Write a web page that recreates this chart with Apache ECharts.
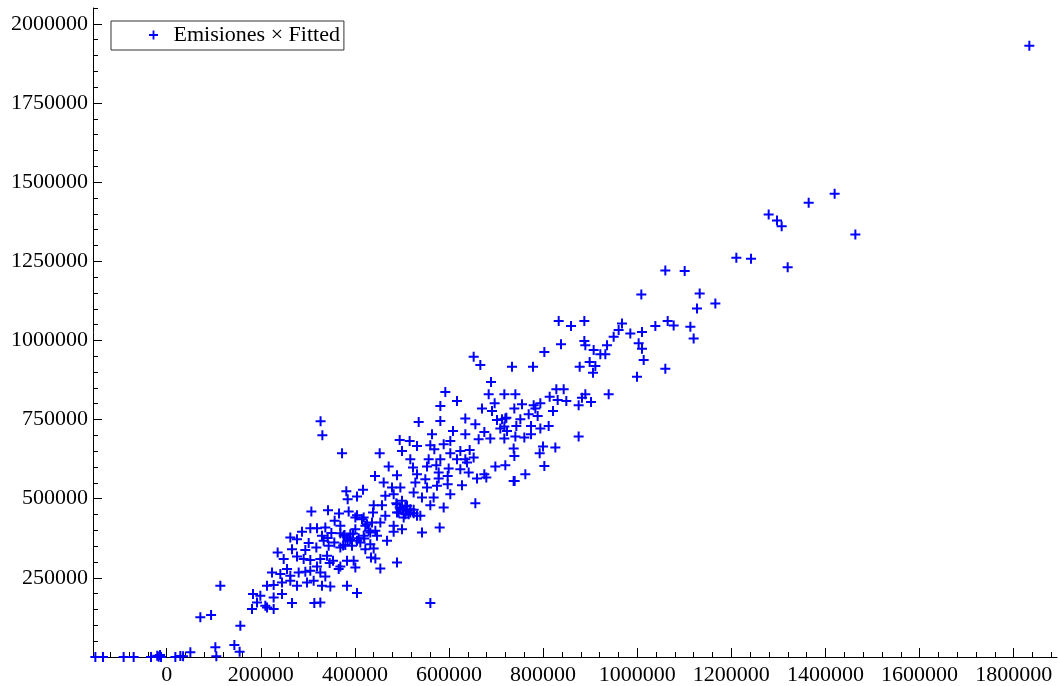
<!DOCTYPE html>
<html>
<head>
<meta charset="utf-8">
<title>Emisiones × Fitted</title>
<script src="https://cdn.jsdelivr.net/npm/echarts@6.0.0/dist/echarts.min.js"></script>
<style>
  html, body { margin: 0; padding: 0; background: #fff; }
  #chart { width: 1059px; height: 686px; }
</style>
</head>
<body>
<div id="chart"></div>
<script>
const seriesName = 'Emisiones × Fitted';

// tick labels
const xTicks = [0, 200000, 400000, 600000, 800000, 1000000, 1200000, 1400000, 1600000, 1800000];
const yTicks = [250000, 500000, 750000, 1000000, 1250000, 1500000, 1750000, 2000000];

// [Emisiones, Fitted]
const puntosBajos = [
  [-151500, 0], [-135200, 0], [-91400, 0], [-70100, 0], [-33200, 0], [-20000, 4000], [-17000, 1000],
  [-14000, 6000], [-11900, 0], [18500, 0], [29100, 3000], [34900, 2000], [50400, 14800], [103500, 30600],
  [105600, 2200], [143900, 37900], [155100, 16700], [156600, 98800], [114100, 225000], [71600, 125300],
  [94400, 132500], [560400, 170400]
];

const puntosNube1 = [
  [381800, 523700], [404500, 506900], [384700, 498500], [307500, 459600], [342900, 463800], [366300, 453300],
  [386800, 459600], [404500, 448000], [357000, 430100], [369100, 414400], [401000, 440700], [305300, 407000],
  [319500, 407000], [337200, 409100], [287600, 395400], [262800, 377500], [277000, 372300], [330100, 382800],
  [342200, 375500], [369100, 391200], [383300, 377500], [401000, 403800], [468300, 367000], [301800, 359700],
  [318100, 346000], [333700, 367000], [344300, 351300], [356300, 361800], [369100, 346000], [384700, 367000],
  [393900, 351300], [411600, 361800], [422200, 340700], [439900, 342800], [235900, 330200], [266400, 340700],
  [294700, 337600], [248700, 309200], [277000, 317600], [291200, 309200], [305300, 306000], [326600, 309200],
  [346400, 296600], [353500, 303900], [369100, 286100], [383300, 303900], [397400, 303900], [401000, 282900],
  [434300, 314400], [443500, 311300], [454100, 279700], [489500, 298700], [223900, 267100], [241600, 261900],
  [255800, 277600], [262800, 256600], [280600, 267100], [294700, 269200], [305300, 272400], [319500, 286100],
  [326600, 267100], [337200, 254500], [365600, 277600], [213300, 225100], [227400, 227200], [245100, 235600],
  [262800, 240800], [277000, 225100], [298300, 235600], [312400, 240800], [330100, 225100], [347800, 223000],
  [383300, 225100], [183500, 198800], [199100, 193500], [227400, 188200], [245100, 198800], [192000, 172500],
  [209700, 162000], [227400, 151400], [266400, 170400], [313800, 170400], [326600, 172500], [404500, 201900],
  [181400, 151400], [213300, 156700], [378000, 385000], [390000, 372000], [375000, 352000], [408000, 375000],
  [350000, 392000], [396000, 390000], [327100, 744600], [330900, 700400], [372700, 643600],
  [376200, 382800], [390300, 388100], [404500, 367000], [420100, 374400], [379700, 353400], [432800, 356500],
  [340800, 319700]
];

const puntosNube2 = [
  [689300, 868700], [592200, 837100], [617000, 808700], [684300, 829800], [717600, 829800], [741000, 829800],
  [581600, 793000], [697000, 801400], [670100, 784600], [691400, 777200], [738800, 784600], [535600, 742500],
  [581600, 745600], [634700, 753000], [656000, 735100], [702000, 748800], [719700, 753000], [563900, 703600],
  [608500, 714100], [634700, 703600], [675100, 710900], [709100, 721400], [743100, 729900], [495200, 685700],
  [516400, 682500], [532000, 666800], [560300, 668900], [588700, 672000], [602800, 682500], [663000, 687800],
  [687800, 689900], [717600, 689900], [741000, 696200], [452700, 643600], [500100, 651000], [568800, 656200],
  [602800, 643600], [624100, 651000], [643900, 654100], [652400, 630000], [737400, 658300], [517800, 624700],
  [556800, 624700], [581600, 624700], [617000, 624700], [634700, 624700], [471800, 601600], [523500, 598400],
  [553300, 601600], [573100, 605800], [599300, 595300], [624100, 593100], [641800, 582600], [698500, 601600],
  [719700, 605800], [442800, 572100], [489500, 574200], [532000, 577400], [549700, 561600], [578100, 563700],
  [597200, 572100], [675100, 577400], [417300, 527900], [461200, 551100], [478900, 535300], [496600, 535300],
  [528500, 551100], [553300, 535300], [574500, 540600], [597200, 545800], [627600, 542700], [659500, 563700],
  [679300, 566800], [737400, 556300], [464700, 509000], [482400, 514300], [524900, 519500], [542600, 503800],
  [567400, 503800], [602800, 514300], [440000, 479600], [457600, 479600], [489500, 482700], [507200, 475400],
  [524900, 464800], [560300, 479600], [588700, 472200], [656000, 485900], [418700, 440700], [438500, 456400],
  [464700, 445900], [489500, 456400], [503700, 440700], [517800, 456400], [539100, 445900], [425800, 419600],
  [454100, 424900], [482400, 414400], [500100, 403800], [580200, 409100], [432800, 393300], [447000, 382800],
  [482400, 395400], [542600, 393300], [496600, 467000], [510800, 461700], [500100, 493200], [514300, 451200],
  [739500, 556200], [652400, 948700], [666600, 922200],
  [488100, 485900], [495200, 472200], [502300, 464800], [510800, 477500], [517800, 466900], [493100, 456400],
  [507200, 451200], [524900, 454300], [532000, 445900], [415100, 435400], [422200, 414400], [436400, 424900],
  [429300, 398600], [443500, 398600], [418700, 382800], [578100, 582600], [638300, 614200]
];

const puntosAltos = [
  [833100, 1061100], [859300, 1045400], [887600, 1061100], [967600, 1053800], [1038500, 1045400], [960500, 1032700],
  [949900, 1011700], [985300, 1022200], [1010100, 1026400], [838000, 987500], [887600, 998000], [889700, 984400],
  [935800, 984400], [907400, 969600], [1003000, 990700], [1010100, 973800], [802600, 963300], [921600, 956000],
  [932200, 956000], [1013700, 938100], [733900, 917100], [778500, 917100], [877700, 917100], [898900, 931800],
  [911000, 919200], [906000, 898100], [999500, 885500], [828100, 845500], [843700, 845500], [813900, 822400],
  [830900, 811900], [849300, 808700], [882600, 819200], [889700, 829800], [901800, 805600], [875500, 795100],
  [939300, 829800], [755100, 798200], [779900, 795100], [794100, 801400], [769300, 766700], [783500, 784600],
  [788400, 761400], [821000, 777200], [721900, 756100], [774300, 729900], [794100, 721400], [811800, 729900],
  [717600, 727800], [760100, 693100], [774300, 703600], [875500, 696200], [738900, 635200], [799800, 664600],
  [792700, 643600], [826000, 661500], [802600, 603700], [762200, 577400],
  [712600, 750900], [723300, 714100], [751600, 750900],
  [1210600, 1261000], [1241800, 1257800], [1059700, 1221000], [1100800, 1218900], [1008700, 1145300],
  [1132700, 1148400], [1166000, 1116900], [1127000, 1101100], [1064700, 1061100], [1077400, 1047500],
  [1112900, 1043300], [1119900, 1006400], [1059700, 910700],
  [1419500, 1462900], [1364300, 1434500], [1279300, 1397700], [1297000, 1378700], [1306900, 1360900],
  [1463500, 1334600], [1319700, 1231500], [1833200, 1930900]
];

const xMin = -156500, xMax = 1892000;
const yMin = 0, yMax = 2050000;

// minor ticks: 40000 on x, 50000 on y
const xMinor = [];
for (let v = -120000; v < xMax; v += 40000) {
  if (v % 200000 !== 0) xMinor.push(v);
}
const yMinor = [];
for (let v = 50000; v <= yMax; v += 50000) {
  if (v % 250000 !== 0) yMinor.push(v);
}

const plus = 'path://M4,0H6V4H10V6H6V10H4V6H0V4H4Z';
const font = { fontFamily: 'Liberation Serif', fontSize: 22, color: '#000' };
const axisColor = '#000';

const option = {
  animation: false,
  backgroundColor: '#fff',
  grid: { left: 93, right: 2, top: 8, bottom: 28 },
  legend: {
    left: 111,
    top: 21,
    padding: [3, 4, 4, 38],
    itemWidth: 30,
    itemHeight: 9,
    borderColor: '#333',
    borderWidth: 1,
    textStyle: font,
    data: [{ name: seriesName, icon: plus }]
  },
  xAxis: [
    {
      type: 'value',
      position: 'bottom',
      min: xMin,
      max: xMax,
      axisLine: { onZero: false, lineStyle: { color: axisColor, width: 1 } },
      axisTick: { inside: true, length: 9, customValues: xTicks, lineStyle: { color: axisColor } },
      axisLabel: Object.assign({ customValues: xTicks, margin: 7, formatter: v => String(v) }, font),
      splitLine: { show: false }
    },
    {
      type: 'value',
      position: 'bottom',
      min: xMin,
      max: xMax,
      axisLine: { show: false, onZero: false },
      axisTick: { inside: true, length: 5, customValues: xMinor, lineStyle: { color: axisColor } },
      axisLabel: { show: false },
      splitLine: { show: false }
    }
  ],
  yAxis: [
    {
      type: 'value',
      position: 'left',
      min: yMin,
      max: yMax,
      axisLine: { show: true, onZero: false, lineStyle: { color: axisColor, width: 1 } },
      axisTick: { show: true, inside: true, length: 9, customValues: [0].concat(yTicks), lineStyle: { color: axisColor } },
      axisLabel: Object.assign({ customValues: yTicks, margin: 5, formatter: v => String(v) }, font),
      splitLine: { show: false }
    },
    {
      type: 'value',
      position: 'left',
      min: yMin,
      max: yMax,
      axisLine: { show: false, onZero: false },
      axisTick: { show: true, inside: true, length: 5, customValues: yMinor, lineStyle: { color: axisColor } },
      axisLabel: { show: false },
      splitLine: { show: false }
    }
  ],
  series: [
    {
      name: seriesName,
      type: 'scatter',
      xAxisIndex: 0,
      yAxisIndex: 0,
      symbol: plus,
      symbolSize: 10,
      itemStyle: { color: '#0000ff', opacity: 1 },
      data: puntosBajos.concat(puntosNube1, puntosNube2, puntosAltos)
    }
  ]
};

const chart = echarts.init(document.getElementById('chart'));
chart.setOption(option);
</script>
</body>
</html>
